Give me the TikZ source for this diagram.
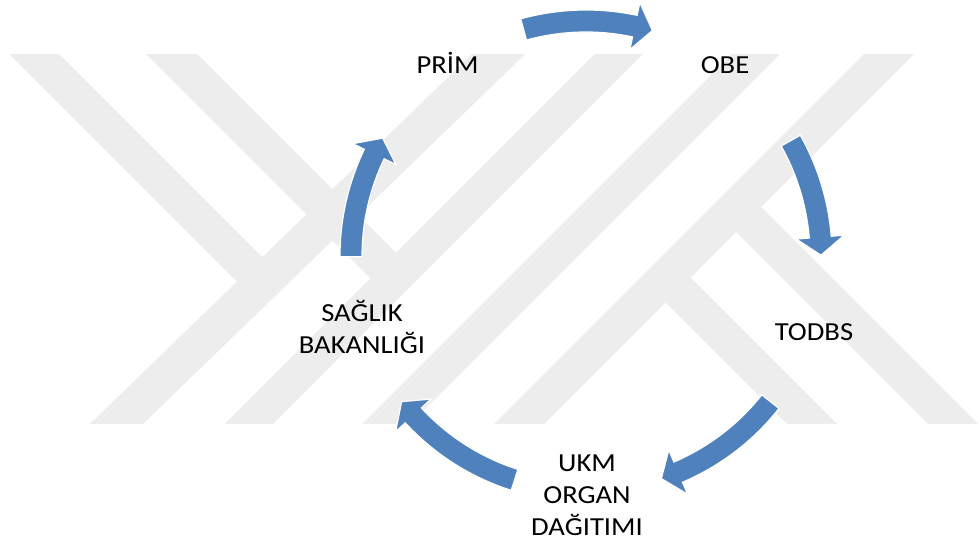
\documentclass[tikz,border=0pt]{standalone}
\usepackage{fontspec}
\setmainfont{Carlito}
\definecolor{wm}{HTML}{EDEDED}
\definecolor{arrowblue}{HTML}{4F81BD}
\newcommand\linestack[1]{\vtop{\halign{\hfil##\hfil\cr#1\crcr}}}
\newcommand\cycarrow[2]{%
  \fill[cyc] (#1:246) arc[start angle=#1, end angle=#2+4.4, radius=246]
    -- (#2+4.4:259) -- (#2:235) -- (#2+4.4:211) -- (#2+4.4:224)
    arc[start angle=#2+4.4, end angle=#1, radius=224] -- cycle;}
\begin{document}
\begin{tikzpicture}[x=1pt,y=1pt,
  band/.style={fill=wm},
  cyc/.style={fill=arrowblue, draw=white, line width=1.2pt, line join=miter},
  lbl/.style={font=\fontsize{26}{31.7}\selectfont, inner sep=0pt, anchor=base, xscale=1.1, text=black}]
\useasboundingbox (0,0) rectangle (980,543);
\fill[white] (0,0) rectangle (980,543);
% watermark
\begin{scope}
  \clip (0,119) rectangle (980,488);
  \fill[band] (63,93) -- (116,93) -- (550,513) -- (497,513) -- cycle;
  \fill[band] (199,93) -- (247,93) -- (667,513) -- (619,513) -- cycle;
  \fill[band] (336,93) -- (384,93) -- (804,513) -- (756,513) -- cycle;
  \fill[band] (468,93) -- (518,93) -- (938,513) -- (888,513) -- cycle;
  \fill[band] (-15,513) -- (35,513) -- (282.5,265.5) -- (257.5,240.5) -- cycle;
  \fill[band] (122,513) -- (173,513) -- (416.5,269.5) -- (391,244) -- cycle;
  \fill[band] (646.5,259.5) -- (671.5,284.5) -- (863,93) -- (813,93) -- cycle;
  \fill[band] (717,330) -- (742,355) -- (1004,93) -- (954,93) -- cycle;
\end{scope}
% cycle arrows
\begin{scope}[shift={(586,287)}]
  \cycarrow{105.4}{73.6}
  \cycarrow{29.4}{0.2}
  \cycarrow{-38.3}{-71.3}
  \cycarrow{-107.7}{-141.7}
  \cycarrow{180.2}{149.9}
\end{scope}
% labels
\node[lbl] (prim) at (447.5,469.7) {PRİM};
\node[lbl] (obe) at (725,469.5) {OBE};
\node[lbl] (todbs) at (814,202) {TODBS};
\node[lbl] (saglik) at (362,221.3) {\linestack{SAĞLIK\cr BAKANLIĞI}};
\node[lbl] (ukm) at (587,71.3) {\linestack{UKM\cr ORGAN\cr DAĞITIMI}};
\end{tikzpicture}
\end{document}
